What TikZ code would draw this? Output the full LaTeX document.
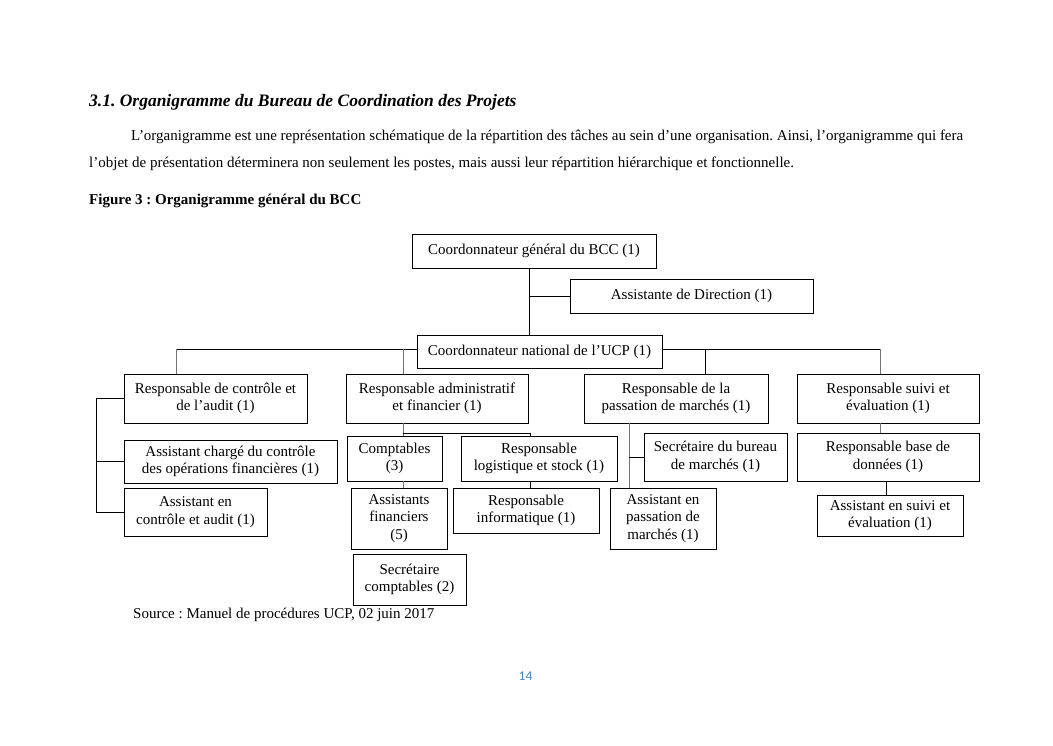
\documentclass[tikz,border=0pt]{standalone}
\usepackage{fontspec}
\setmainfont{Liberation Serif}
\newfontfamily\pagefont{Carlito}
\usepackage{tikz}
\usetikzlibrary{calc}
\definecolor{pagebleu}{RGB}{79,129,189}
\frenchspacing

\tikzset{
  poste/.style 2 args={draw, line width=0.9pt, minimum width=#1pt, minimum height=#2pt,
    inner sep=0pt, align=center, font=\fontsize{15}{17.5}\selectfont},
  lien/.style={line width=0.9pt},
  liengris/.style={line width=1pt, black!55},
  texte/.style={anchor=base west, inner sep=0pt, font=\fontsize{15}{18}\selectfont}
}

\begin{document}
\begin{tikzpicture}[x=1pt,y=-1pt]
\fill[white] (0,0) rectangle (1053,745);
\useasboundingbox (0,0) rectangle (1053,745);

% texte de la page
\node[texte, font=\fontsize{17.5}{21}\selectfont\bfseries\itshape] (titre) at (89,106)
    {3.1. Organigramme du Bureau de Coordination des Projets};
\node[texte] (ligne1) at (131,140)
    {\makebox[832pt][s]{L’organigramme est une représentation schématique de la répartition des tâches au sein d’une organisation. Ainsi, l’organigramme qui fera}};
\node[texte] (ligne2) at (89,167)
    {l’objet de présentation déterminera non seulement les postes, mais aussi leur répartition hiérarchique et fonctionnelle.};
\node[texte, font=\fontsize{15}{18}\selectfont\bfseries] (figure) at (89,204)
    {Figure 3 : Organigramme général du BCC};

% postes
\node[poste={244}{34}] (gen) at (534,251) {Coordonnateur général du BCC (1)};
\node[poste={243}{34}] (asst) at (691.5,296) {Assistante de Direction (1)};
\node[poste={245}{33}] (nat) at (539.5,351.5) {Coordonnateur national de l’UCP (1)};

\node[poste={183}{49}] (rca) at (215.5,398.5) {Responsable de contrôle et\\de l’audit (1)};
\node[poste={182}{49}] (raf) at (437,398.5) {Responsable administratif\\et financier (1)};
\node[poste={184}{49}] (rpm) at (676,398.5) {Responsable de la\\passation de marchés (1)};
\node[poste={182}{49}] (rse) at (888,398.5) {Responsable suivi et\\évaluation (1)};

\node[poste={213}{43}] (acof) at (230.5,461.5) {Assistant chargé du contrôle\\des opérations financières (1)};
\node[poste={143}{48}] (aca) at (195.5,512) {Assistant en\\contrôle et audit (1)};

\node[poste={95}{45}] (compt) at (394.5,458.5) {Comptables\\(3)};
\node[poste={156}{45}] (rls) at (539,458.5) {Responsable\\logistique et stock (1)};
\node[poste={96}{61}] (af) at (399,518.5) {Assistants\\financiers\\(5)};
\node[poste={146}{45}] (ri) at (526,510.5) {Responsable\\informatique (1)};
\node[poste={113}{51}] (sc) at (409.5,579.5) {Secrétaire\\comptables (2)};

\node[poste={143}{48}] (sbm) at (715.5,457) {Secrétaire du bureau\\de marchés (1)};
\node[poste={106}{61}] (apm) at (663,518.5) {Assistant en\\passation de\\marchés (1)};

\node[poste={182}{48}] (rbd) at (888,457) {Responsable base de\\données (1)};
\node[poste={146}{41}] (ase) at (890,515.5) {Assistant en suivi et\\évaluation (1)};

% liaisons
\coordinate (tronc) at (529,296);
\draw[lien] (gen.south -| tronc) -- (nat.north -| tronc);
\draw[lien] (tronc) -- (tronc -| asst.west);

\coordinate (b1) at (176,349);
\coordinate (b2) at (403,349);
\coordinate (b3) at (705,349);
\coordinate (b4) at (880,349);
\draw[lien] (b1) -- (b1 -| nat.west);
\draw[lien] (nat.east |- b4) -- (b4);
\draw[liengris] (b1) -- (b1 |- rca.north);
\draw[liengris] (b2) -- (b2 |- raf.north);
\draw[lien] (b3) -- (b3 |- rpm.north);
\draw[liengris] (b4) -- (b4 |- rse.north);

\coordinate (g) at (96,0);
\draw[lien] (rca.west) -- (g |- rca.west) -- (g |- aca.west) -- (aca.west);
\draw[lien] (g |- acof.west) -- (acof.west);

\coordinate (c) at (403,433);
\coordinate (l) at (530,433);
\draw[liengris] (c |- raf.south) -- (c |- compt.north);
\draw[lien] (c) -- (l) -- (l |- rls.north);
\draw[liengris] (c |- compt.south) -- (c |- af.north);
\draw[lien] (l |- rls.south) -- (l |- ri.north);

\coordinate (p) at (629,457);
\draw[liengris] (p |- rpm.south) -- (p |- apm.north);
\draw[lien] (p) -- (sbm.west);

\draw[liengris] (b4 |- rse.south) -- (b4 |- rbd.north);
\draw[lien] (ase.north -| 886,0) -- (rbd.south -| 886,0);

% source et page
\node[texte] (source) at (133,618) {Source : Manuel de procédures UCP, 02 juin 2017};
\node[texte, font=\fontsize{13.5}{16}\pagefont, text=pagebleu] (page) at (518.5,680) {14};
\end{tikzpicture}
\end{document}
